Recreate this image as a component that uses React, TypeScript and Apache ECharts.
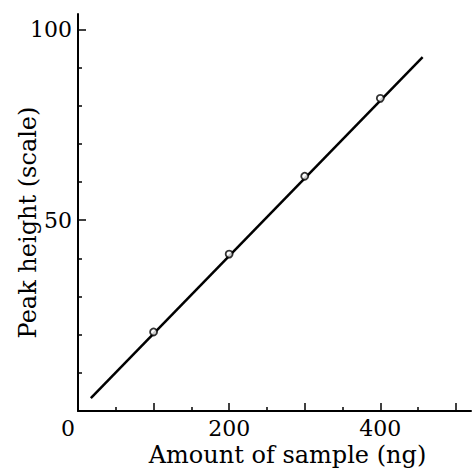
import React, { useEffect, useRef } from "react";
import * as echarts from "echarts";

const sampleAmounts = [100, 200, 300, 400];
const peakHeights = [20.7, 41.1, 61.5, 81.9];
const fitLineX = [17, 456];
const fitLineY = [3.4, 92.7];
const xLabelValues = [0, 200, 400];
const yLabelValues = [50, 100];
const xMajorTicks = [100, 200, 300, 400, 500];
const xMinorTicks = [50, 150, 250, 350, 450];
const yMajorTicks = [50, 100];
const yMinorTicks = [10, 20, 30, 40, 60, 70, 80, 90];
const xTitle = "Amount of sample (ng)";
const yTitle = "Peak height (scale)";

const FONT = "DejaVu Serif";
const FS = 24;
const LFS = 22;

export default function App() {
  const ref = useRef<HTMLDivElement>(null);
  useEffect(() => {
    const chart = echarts.init(ref.current!, null, { renderer: "svg" });
    const xBase = { type: "value", min: 0, max: 520, position: "bottom", splitLine: { show: false } };
    const yBase = { type: "value", min: 0, max: 104, position: "left", splitLine: { show: false } };
    const txt = { color: "#000", fontFamily: FONT, fontSize: FS, fontWeight: "normal" };
    const lbl = { color: "#000", fontFamily: FONT, fontSize: LFS, fontWeight: "normal" };
    chart.setOption({
      animation: false,
      backgroundColor: "#fff",
      grid: { left: 78, right: 1, top: 14, bottom: 58, containLabel: false, outerBoundsMode: "none" },
      xAxis: [
        {
          ...xBase,
          axisLine: { show: true, onZero: false, lineStyle: { color: "#000", width: 2 } },
          axisTick: { show: true, inside: true, length: 4, customValues: xMinorTicks, lineStyle: { color: "#000", width: 1.5 } },
          axisLabel: {
            show: true,
            customValues: xLabelValues,
            margin: 6,
            ...lbl,
            formatter: (v: number) => (v === 0 ? "{o|0}" : String(v)),
            rich: { o: { ...lbl, padding: [0, 20, 0, 0] } },
          },
          name: xTitle,
          nameLocation: "middle",
          nameGap: 32,
          nameMoveOverlap: false,
          nameTextStyle: { ...txt, padding: [0, 0, 0, 26] },
        },
        {
          ...xBase,
          axisLine: { show: false, onZero: false },
          axisTick: { show: true, inside: true, length: 8, customValues: xMajorTicks, lineStyle: { color: "#000", width: 1.5 } },
          axisLabel: { show: false },
        },
      ],
      yAxis: [
        {
          ...yBase,
          axisLine: { show: true, onZero: false, lineStyle: { color: "#000", width: 2 } },
          axisTick: { show: true, inside: true, length: 4, customValues: yMinorTicks, lineStyle: { color: "#000", width: 1.5 } },
          axisLabel: {
            show: true,
            customValues: yLabelValues,
            margin: 6,
            ...lbl,
          },
          name: yTitle,
          nameLocation: "middle",
          nameGap: 38,
          nameMoveOverlap: false,
          nameTextStyle: { ...txt, padding: [0, 20, 0, 0] },
          nameRotate: 90,
        },
        {
          ...yBase,
          axisLine: { show: false, onZero: false },
          axisTick: { show: true, inside: true, length: 8, customValues: yMajorTicks, lineStyle: { color: "#000", width: 1.5 } },
          axisLabel: { show: false },
        },
      ],
      series: [
        {
          type: "line",
          data: fitLineX.map((x, i) => [x, fitLineY[i]]),
          showSymbol: false,
          symbol: "none",
          lineStyle: { color: "#000", width: 2.5 },
          silent: true,
          z: 2,
        },
        {
          type: "scatter",
          data: sampleAmounts.map((x, i) => [x, peakHeights[i]]),
          symbol: "circle",
          symbolSize: 7,
          itemStyle: { color: "#fff", borderColor: "#000", borderWidth: 1.8 },
          z: 3,
        },
      ],
    });
    return () => chart.dispose();
  }, []);
  return (
    <div
      ref={ref}
      style={{ position: "fixed", left: 0, top: 0, width: 472, height: 469, background: "#fff" }}
    />
  );
}
